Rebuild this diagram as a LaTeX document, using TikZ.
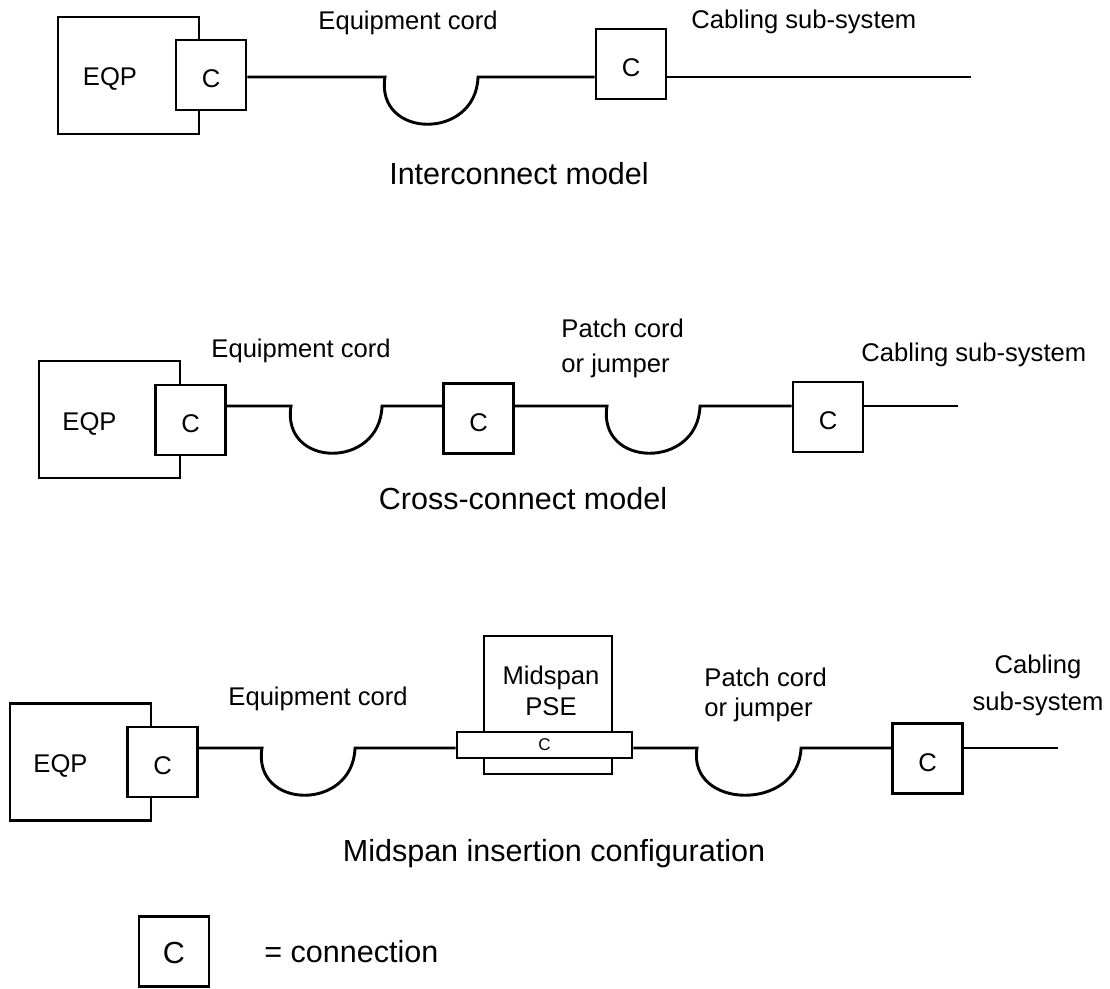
\documentclass[tikz,border=0pt]{standalone}
\usepackage{fontspec}
\setmainfont{Liberation Sans}
\usepackage{tikz}
\usetikzlibrary{positioning,calc}

\begin{document}
\begin{tikzpicture}[x=1pt, y=-1pt, line width=2.9pt,
    lbl/.style={font=\fontsize{25.6}{33}\selectfont, inner sep=0pt},
    ttl/.style={font=\fontsize{30.5}{36}\selectfont, inner sep=0pt},
    cbox/.style={rectangle, draw, fill=white, minimum width=70pt, minimum height=70pt, inner sep=0pt, text height=25pt, text depth=0pt, font=\fontsize{25.6}{30}\selectfont},
    eqpbox/.style={rectangle, draw, minimum width=141pt, minimum height=117pt, inner sep=0pt}]
  \useasboundingbox (0,0) rectangle (1110,988);

  % interconnect model
  \node[eqpbox] (eqpA) at (128.5,75.5) {};
  \node[lbl] (eqpAtxt) at (110,78.5) {EQP};
  \node[cbox] (cA1) at (211,75) {C};
  \node[cbox] (cA2) at (631,64) {C};
  \coordinate (lA1) at (385,77);
  \coordinate (lA2) at (478,77);
  \coordinate (endA) at (971,77);
  \draw (cA1.east |- lA1) -- (lA1) .. controls ($(lA1)+(-10,62)$) and ($(lA2)+(-2,64)$) .. (lA2) -- (cA2.west |- lA2);
  \draw (cA2.east |- endA) -- (endA);
  \node[lbl, anchor=base west] (cordA) at (317,29) {Equipment cord};
  \node[lbl, anchor=base west] (cablingA) at (690,28) {Cabling sub-system};
  \node[ttl, anchor=base] (ttlA) at (519,184) {Interconnect model};

  % cross-connect model
  \node[eqpbox] (eqpB) at (109.5,419.5) {};
  \node[lbl] (eqpBtxt) at (89.5,423.5) {EQP};
  \node[cbox] (cB1) at (190.5,420) {C};
  \node[cbox] (cB2) at (478.5,418.5) {C};
  \node[cbox] (cB3) at (828,417) {C};
  \coordinate (lB1) at (291,406);
  \coordinate (lB2) at (382,406);
  \coordinate (lB3) at (607,406);
  \coordinate (lB4) at (700,406);
  \coordinate (endB) at (958,406);
  \draw (cB1.east |- lB1) -- (lB1) .. controls ($(lB1)+(-10,62)$) and ($(lB2)+(-2,64)$) .. (lB2) -- (cB2.west |- lB2);
  \draw (cB2.east |- lB3) -- (lB3) .. controls ($(lB3)+(-10,62)$) and ($(lB4)+(-2,64)$) .. (lB4) -- (cB3.west |- lB4);
  \draw (cB3.east |- endB) -- (endB);
  \node[lbl, anchor=base west] (cordB) at (210,357) {Equipment cord};
  \node[lbl, anchor=north west, align=left] (patchB) at (560,317.7) {Patch cord\\[2pt]or jumper};
  \node[lbl, anchor=base west] (cablingB) at (860,361) {Cabling sub-system};
  \node[ttl, anchor=base] (ttlB) at (523,509) {Cross-connect model};

  % midspan insertion
  \node[eqpbox] (eqpC) at (80.5,762) {};
  \node[lbl] (eqpCtxt) at (60.5,766) {EQP};
  \node[cbox] (cC1) at (162.5,762) {C};
  \node[rectangle, draw, line width=2.6pt, minimum width=128pt, minimum height=138pt, inner sep=0pt] (pse) at (548,705) {};
  \node[lbl, anchor=north, align=center] (pseTxt) at (551,664.7) {Midspan\\[-2pt]PSE};
  \node[rectangle, draw, line width=2.6pt, fill=white, minimum width=175pt, minimum height=26pt, inner sep=0pt, font=\fontsize{17}{20}\selectfont] (cPSE) at (544.5,745) {C};
  \node[cbox] (cC2) at (927.5,758.5) {C};
  \coordinate (lC1) at (262,748);
  \coordinate (lC2) at (355,748);
  \coordinate (lC3) at (697,748);
  \coordinate (lC4) at (801,748);
  \coordinate (endC) at (1058,748);
  \draw (cC1.east |- lC1) -- (lC1) .. controls ($(lC1)+(-10,62)$) and ($(lC2)+(-2,64)$) .. (lC2) -- (cPSE.west |- lC2);
  \draw (cPSE.east |- lC3) -- (lC3) .. controls ($(lC3)+(-10,62)$) and ($(lC4)+(-2,64)$) .. (lC4) -- (cC2.west |- lC4);
  \draw (cC2.east |- endC) -- (endC);
  \node[lbl, anchor=base west] (cordC) at (227,705) {Equipment cord};
  \node[lbl, anchor=north west, align=left] (patchC) at (703,666.7) {Patch cord\\[-3pt]or jumper};
  \node[lbl, anchor=north, align=center] (cablingC) at (1038,653.7) {Cabling\\[4pt]sub-system};
  \node[ttl, anchor=base] (ttlC) at (554,861) {Midspan insertion configuration};

  % legend
  \node[cbox, text height=24pt, font=\fontsize{30.5}{36}\selectfont] (cLeg) at (174,951.5) {C};
  \node[ttl, anchor=base west] (legTxt) at (263,962) {= connection};
\end{tikzpicture}
\end{document}
